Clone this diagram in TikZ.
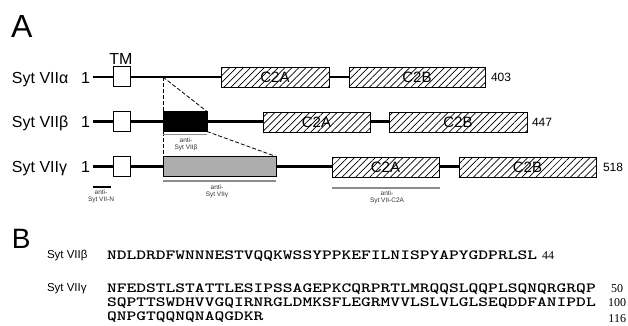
\documentclass[tikz,border=0pt]{standalone}
\usepackage{fontspec}
\setmainfont{Liberation Sans}
\newfontfamily\numfont{Liberation Serif}
\usetikzlibrary{patterns.meta}
\newcommand\seqline[1]{\scalebox{1.33}[1]{\ttfamily\bfseries\fontsize{14}{14}\selectfont #1}}
\begin{document}
\begin{tikzpicture}[x=1pt,y=-1pt,
  every node/.style={inner sep=0pt, outer sep=0pt},
  bbone/.style={line width=2.6pt},
  tmbox/.style={draw, line width=0.8pt, fill=white, minimum width=17pt, minimum height=19.5pt},
  c2box/.style={draw, line width=0.8pt, minimum height=20pt,
     preaction={fill=white}, pattern={Lines[angle=45,distance=4.9pt,line width=0.7pt]},
     font=\fontsize{15}{15}\selectfont},
  dsh/.style={line width=0.8pt, dash pattern=on 4pt off 2pt},
  abg/.style={line width=1.6pt, draw=black!45},
  abk/.style={line width=1.2pt, draw=black},
  tiny/.style={font=\fontsize{6.5}{7}\selectfont, align=center, text=black!80},
  rowlab/.style={anchor=base west, font=\fontsize{16}{16}\selectfont},
  endnum/.style={anchor=base west, font=\fontsize{12}{12}\selectfont},
  seq/.style={anchor=base west},
  blab/.style={anchor=base west, font=\fontsize{11.5}{12}\selectfont},
  snum/.style={anchor=base east, font=\numfont\fontsize{12}{12}\selectfont}
]
\useasboundingbox (0,0) rectangle (628,325);

% panel letters
\node[anchor=base west, font=\fontsize{32}{32}\selectfont] (pA) at (11,37) {A};
\node[anchor=base west, font=\fontsize{28}{28}\selectfont] (pB) at (12,248) {B};

% backbones
\coordinate (stA) at (93,77);   \coordinate (enA) at (349,77);
\coordinate (stB) at (93,121.5); \coordinate (enB) at (389,121.5);
\coordinate (stC) at (93,166.5); \coordinate (enC) at (459,166.5);
\draw[bbone] (stA) -- (enA);
\draw[bbone] (stB) -- (enB);
\draw[bbone] (stC) -- (enC);

% ---- row alpha
\node[rowlab] (labA) at (12,83) {Syt VIIα};
\node[rowlab] (oneA) at (81,83) {1};
\coordinate (sp) at (163,77);
\node[tmbox] (tmA) at (121.5,76.5) {};
\node[c2box, minimum width=108pt] (c2aA) at (275,77) {C2A};
\node[c2box, minimum width=136pt] (c2bA) at (417,77) {C2B};
\node[anchor=base, font=\fontsize{16}{16}\selectfont] (tmlab) at (121,64.5) {TM};
\node[endnum] (nA) at (491,81.5) {403};

% ---- row beta
\node[rowlab] (labB) at (12,127) {Syt VIIβ};
\node[rowlab] (oneB) at (81,127) {1};
\node[tmbox] (tmB) at (121.5,121.5) {};
\node[draw, line width=0.8pt, fill=black, minimum width=44pt, minimum height=20pt] (blk) at (185,121.5) {};
\node[c2box, minimum width=107pt] (c2aB) at (316.5,122) {C2A};
\node[c2box, minimum width=138pt] (c2bB) at (458,122) {C2B};
\node[endnum] (nB) at (532,126.5) {447};

% ---- row gamma
\node[rowlab] (labC) at (12,172) {Syt VIIγ};
\node[rowlab] (oneC) at (81,172) {1};
\node[tmbox] (tmC) at (121.5,166.5) {};
\node[draw, line width=0.8pt, fill=black!32, minimum width=113pt, minimum height=20pt] (gry) at (219.5,166.5) {};
\node[c2box, minimum width=107pt] (c2aC) at (385.5,167) {C2A};
\node[c2box, minimum width=137pt] (c2bC) at (527.5,167) {C2B};
\node[endnum] (nC) at (603,171.5) {518};

% ---- dashed zoom lines
\draw[dsh] (sp) -- (blk.north west);
\draw[dsh] (sp) -- (blk.north east);
\draw[dsh] (blk.south west) -- (gry.north west);
\draw[dsh] (blk.south east) -- (gry.north east);

% ---- antibodies
\coordinate (abB1) at (163,134.5); \coordinate (abB2) at (207,134.5);
\draw[abg] (abB1) -- (abB2);
\node[tiny, anchor=north] (abBt) at (186,137.5) {anti-\\Syt VIIβ};
\coordinate (abC1) at (163,181); \coordinate (abC2) at (276,181);
\draw[abg] (abC1) -- (abC2);
\node[tiny, anchor=north] (abCt) at (217,184.5) {anti-\\Syt VIIγ};
\coordinate (abN1) at (93,187); \coordinate (abN2) at (111,187);
\draw[abk] (abN1) -- (abN2);
\node[tiny, anchor=north] (abNt) at (101,189.5) {anti-\\Syt VII-N};
\coordinate (abD1) at (332,188); \coordinate (abD2) at (440,188);
\draw[abg] (abD1) -- (abD2);
\node[tiny, anchor=north] (abDt) at (387,191) {anti-\\Syt VII-C2A};

% ---- panel B
\node[blab] (bl1) at (47,258.5) {Syt VIIβ};
\node[seq] (s1) at (107,259.5) {\seqline{NDLDRDFWNNNESTVQQKWSSYPPKEFILNISPYAPYGDPRLSL}};
\node[anchor=base west, font=\numfont\fontsize{12}{12}\selectfont] (n44) at (542,259.5) {44};
\node[blab] (bl2) at (47,291.5) {Syt VIIγ};
\node[seq] (s2) at (107,292) {\seqline{NFEDSTLSTATTLESIPSSAGEPKCQRPRTLMRQQSLQQPLSQNQRGRQP}};
\node[seq] (s3) at (107,306) {\seqline{SQPTTSWDHVVGQIRNRGLDMKSFLEGRMVVLSLVLGLSEQDDFANIPDL}};
\node[seq] (s4) at (107,320) {\seqline{QNPGTQQNQNAQGDKR}};
\node[snum] (n50) at (623,292) {50};
\node[snum] (n100) at (626,306) {100};
\node[snum] (n116) at (626,322.5) {116};
\end{tikzpicture}
\end{document}
